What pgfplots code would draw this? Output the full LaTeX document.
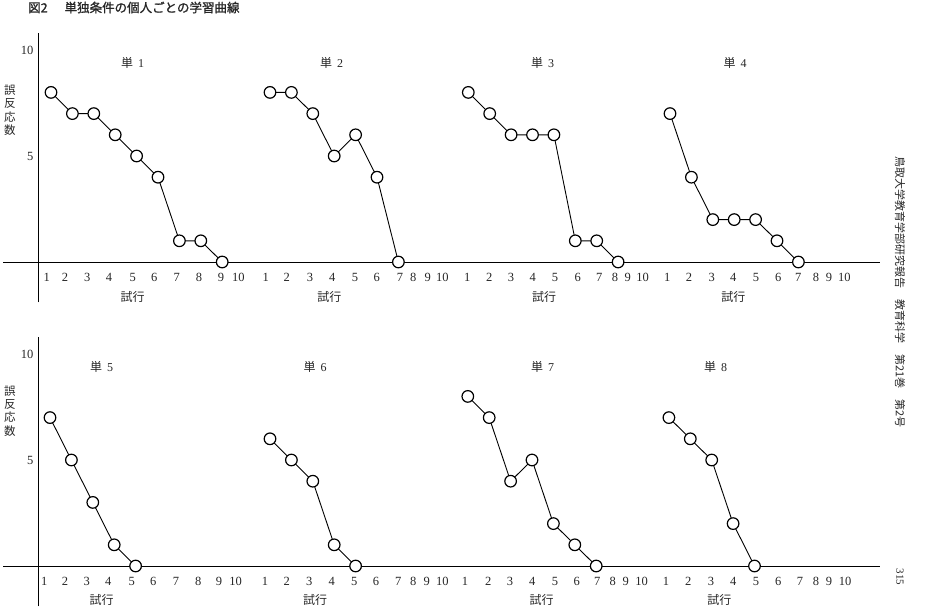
\documentclass[border=0pt]{standalone}
\usepackage{fontspec}
\setmainfont{Liberation Serif}
\newfontfamily\cjk{Noto Sans CJK JP}
\newfontfamily\cjkb[FakeBold=1.2]{Noto Sans CJK JP}
\usepackage{pgfplots}
\pgfplotsset{compat=1.18}
\usepackage{pgfplotstable}

% trial t, errors e
\pgfplotstableread{
t e
1 8
2 7
3 7
4 6
5 5
6 4
7 1
8 1
9 0
}\tA
\pgfplotstableread{
t e
1 8
2 8
3 7
4 5
5 6
6 4
7 0
}\tB
\pgfplotstableread{
t e
1 8
2 7
3 6
4 6
5 6
6 1
7 1
8 0
}\tC
\pgfplotstableread{
t e
1 7
2 4
3 2
4 2
5 2
6 1
7 0
}\tD
\pgfplotstableread{
t e
1 7
2 5
3 3
4 1
5 0
}\tE
\pgfplotstableread{
t e
1 6
2 5
3 4
4 1
5 0
}\tF
\pgfplotstableread{
t e
1 8
2 7
3 4
4 5
5 2
6 1
7 0
}\tG
\pgfplotstableread{
t e
1 7
2 6
3 5
4 2
5 0
}\tH

\begin{document}
\begin{tikzpicture}
\path[use as bounding box] (0,0) rectangle (939pt,-610pt);
\pgfplotsset{
  rowstyle/.style={
    x=1pt, y=21.2pt,
    anchor=origin,
    axis lines=middle,
    axis line style={-, line width=0.9pt, black},
    xmin=-35, xmax=842,
    ymin=-1.9, ymax=10.8,
    ytick={5,10},
    major tick length=0pt,
    clip=false,
    /pgf/number format/assume math mode=true,
    tick label style={font=\fontsize{12.5}{12.5}\selectfont, text=black!85},
    xticklabel style={anchor=base, yshift=-19.5pt},
    yticklabel style={anchor=east, xshift=-1pt},
    xticklabels={1,2,3,4,5,6,7,8,9,10,1,2,3,4,5,6,7,8,9,10,1,2,3,4,5,6,7,8,9,10,1,2,3,4,5,6,7,8,9,10},
  },
  curve/.style={black, line width=0.9pt, mark=*, mark size=5.8pt,
    mark options={fill=white, draw=black, line width=1.2pt}},
}

% ---------- top row ----------
\begin{axis}[rowstyle, at={(38pt,-262pt)},
  xtick={8.7,27,49.3,71,94.7,116.3,138.7,161,183,200.3,
         227.7,248.7,272,294.3,317,338.7,362,375.3,389.7,404.3,
         429.3,451.3,473,494.7,517,539.7,561.3,577,589.7,604.7,
         629.3,651,673.7,695.3,718,740.3,760.3,778,791,806.3}]
\addplot[curve] table[x expr=\thisrow{t}*21.4-8.4, y=e] {\tA};
\addplot[curve] table[x expr=\thisrow{t}*21.4+210.6, y=e] {\tB};
\addplot[curve] table[x expr=\thisrow{t}*21.4+408.9, y=e] {\tC};
\addplot[curve] table[x expr=\thisrow{t}*21.4+610.6, y=e] {\tD};
\end{axis}

% ---------- bottom row ----------
\begin{axis}[rowstyle, at={(38pt,-566pt)},
  xtick={6.3,27,48.7,70.3,93.7,115.3,138,160.3,181,197.7,
         227,248.7,271.3,293.7,316.3,338,360.3,375.3,388.7,404.3,
         427,450.3,472,494.3,517,538.7,559.3,574.7,587.7,603.7,
         628,650.3,673,695.3,718,740.3,762,778,791,807}]
\addplot[curve] table[x expr=\thisrow{t}*21.4-9.4, y=e] {\tE};
\addplot[curve] table[x expr=\thisrow{t}*21.4+210.6, y=e] {\tF};
\addplot[curve] table[x expr=\thisrow{t}*21.4+408.4, y=e] {\tG};
\addplot[curve] table[x expr=\thisrow{t}*21.4+609.5, y=e] {\tH};
\end{axis}

% ---------- texts ----------
\begin{scope}[x=1pt, y=-1pt, every node/.style={inner sep=0pt, text=black!85}]
\node[anchor=west] at (28,7.5) {\cjkb\fontsize{12.5}{12.5}\selectfont 図2\hspace{17pt}単独条件の個人ごとの学習曲線};

\foreach \xx/\lab in {132.7/1, 331.7/2, 542.7/3, 735/4}
  \node at (\xx,63.3) {\fontsize{12}{12}\selectfont{\cjk 単}\hspace{5pt}\lab};
\foreach \xx/\lab in {101.7/5, 315/6, 542.7/7, 715.7/8}
  \node at (\xx,366.7) {\fontsize{12}{12}\selectfont{\cjk 単}\hspace{5pt}\lab};

\foreach \xx in {132.7, 329.3, 544, 733.3}
  \node at (\xx,296.7) {\cjk\fontsize{12}{12}\selectfont 試行};
\foreach \xx in {101.7, 315, 541.7, 719.3}
  \node at (\xx,600) {\cjk\fontsize{12}{12}\selectfont 試行};

\node[align=center, font=\cjk\fontsize{11.5}{13.3}\selectfont] at (10,110.3) {誤\\反\\応\\数};
\node[align=center, font=\cjk\fontsize{11.5}{13.3}\selectfont] at (10,411) {誤\\反\\応\\数};

\node[rotate=-90] at (900,292) {\cjk\fontsize{11}{11}\selectfont 鳥取大学教育学部研究報告\hspace{1em}教育科学\hspace{1em}第21巻\hspace{1em}第2号};
\node[rotate=-90] at (900,577) {\fontsize{11}{11}\selectfont 315};
\end{scope}
\end{tikzpicture}
\end{document}
